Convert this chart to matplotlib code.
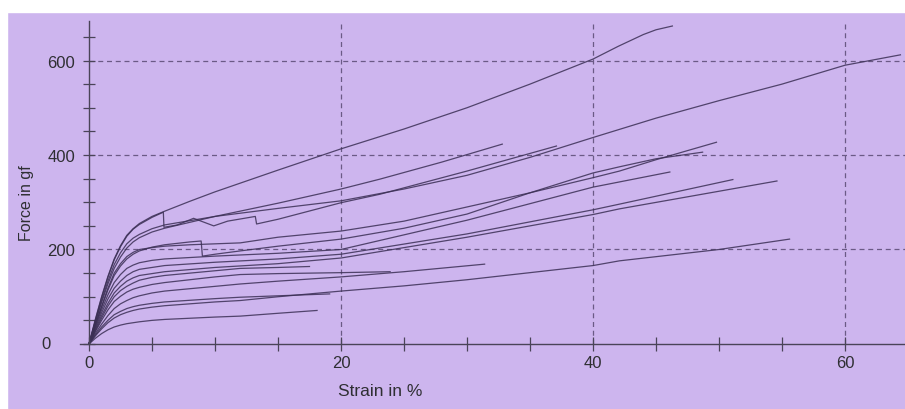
import matplotlib
matplotlib.use("Agg")
import matplotlib.pyplot as plt
import matplotlib.ticker as ticker
from matplotlib.patches import Rectangle

# strain (%) / force (gf) pairs
a_strain = [0, 0.5, 1, 1.5, 2, 2.5, 3, 3.5, 4, 5, 6, 8, 10, 15, 20, 25, 30, 35, 40, 42, 44, 45, 46.3]
a_force = [0, 52, 100, 143, 180, 208, 230, 244, 255, 270, 281, 302, 322, 368, 413, 455, 500, 550, 603, 630, 655, 665, 673]

kink1_strain = [0, 0.5, 1, 1.5, 2, 2.5, 3, 3.5, 4, 5, 5.9, 5.95, 7, 8.3, 9.9, 11, 13.2, 13.3, 15, 20, 23.1, 30, 37.1]
kink1_force = [0, 50, 98, 141, 178, 206, 228, 243, 253, 268, 279, 247, 252, 266, 250, 260, 270, 254, 264, 299, 317, 366, 419]

b_strain = [0, 0.5, 1, 1.5, 2, 2.5, 3, 3.5, 4, 5, 6, 10, 15, 20, 25, 30, 35, 40, 45, 50, 55, 60, 64.4]
b_force = [0, 47, 92, 133, 168, 193, 212, 224, 232, 244, 252, 270, 287, 303, 328, 357, 395, 437, 478, 515, 550, 590, 612]

i_strain = [0, 0.5, 1, 1.5, 2, 2.5, 3, 3.5, 4, 5, 6, 10, 15, 20, 23.1, 28, 32.8]
i_force = [0, 45, 88, 127, 160, 184, 203, 216, 225, 237, 245, 270, 298, 328, 349, 385, 423]

c_strain = [0, 0.5, 1, 1.5, 2, 2.5, 3, 3.5, 4, 5, 6, 8, 10, 12, 15, 20, 25, 30, 35, 40, 42.1, 45, 49.8]
c_force = [0, 41, 80, 118, 150, 170, 185, 194, 200, 204, 207, 210, 212, 214, 226, 239, 260, 290, 320, 352, 366, 390, 427]

kink2_strain = [0, 0.5, 1, 1.5, 2, 2.5, 3, 3.5, 4, 5, 6, 8, 8.9, 9.0, 10, 12, 15, 20, 25, 30, 35, 40, 42.1, 45, 48.7]
kink2_force = [0, 40, 78, 114, 145, 165, 180, 190, 197, 205, 210, 216, 218, 186, 190, 197, 207, 222, 245, 275, 320, 362, 375, 392, 406]

e_strain = [0, 0.5, 1, 1.5, 2, 2.5, 3, 3.5, 4, 5, 6, 10, 15, 20, 30, 40, 42.1, 46.1]
e_force = [0, 37, 72, 104, 130, 147, 160, 167, 172, 177, 180, 186, 192, 200, 262, 332, 343, 364]

f_strain = [0, 0.5, 1, 1.5, 2, 2.5, 3, 3.5, 4, 5, 6, 10, 15, 20, 30, 40, 42.1, 51.1]
f_force = [0, 34, 66, 95, 118, 133, 145, 153, 158, 162, 166, 173, 180, 190, 233, 284, 296, 348]

g_strain = [0, 0.5, 1, 1.5, 2, 2.5, 3, 3.5, 4, 5, 6, 10, 15, 20, 30, 40, 42.1, 54.6]
g_force = [0, 31, 60, 86, 108, 122, 133, 140, 145, 149, 153, 162, 170, 182, 226, 274, 286, 345]

m_strain = [0, 0.5, 1, 1.5, 2, 2.5, 3, 3.5, 4, 5, 6, 10, 12, 15, 17.5]
m_force = [0, 28, 55, 80, 100, 113, 122, 129, 135, 141, 145, 155, 160, 162, 164]

l_strain = [0, 0.5, 1, 1.5, 2, 2.5, 3, 3.5, 4, 5, 6, 10, 12, 15, 20, 23.9]
l_force = [0, 26, 50, 72, 90, 101, 110, 116, 120, 126, 130, 142, 147, 149, 151, 153]

k_strain = [0, 0.5, 1, 1.5, 2, 2.5, 3, 3.5, 4, 5, 6, 10, 12, 15, 20, 25, 31.4]
k_force = [0, 22, 42, 60, 75, 85, 92, 98, 102, 108, 112, 122, 127, 133, 142, 153, 169]

h_strain = [0, 0.5, 1, 1.5, 2, 2.5, 3, 3.5, 4, 5, 6, 10, 12, 15, 20, 25, 30, 40, 42.1, 50, 55.6]
h_force = [0, 17, 32, 45, 55, 62, 67, 71, 74, 78, 81, 89, 92, 100, 112, 123, 136, 166, 176, 200, 222]

o_strain = [0, 0.5, 1, 1.5, 2, 2.5, 3, 3.5, 4, 5, 6, 10, 12, 15, 19.1]
o_force = [0, 19, 36, 50, 62, 69, 75, 79, 82, 86, 89, 96, 99, 102, 106]

p_strain = [0, 0.5, 1, 1.5, 2, 2.5, 3, 3.5, 4, 5, 6, 10, 12, 15, 18.1]
p_force = [0, 12, 22, 30, 36, 40, 43, 45, 47, 50, 52, 57, 59, 65, 71]

curves = [
    (a_strain, a_force), (kink1_strain, kink1_force), (b_strain, b_force),
    (i_strain, i_force), (c_strain, c_force), (kink2_strain, kink2_force),
    (e_strain, e_force), (f_strain, f_force), (g_strain, g_force),
    (m_strain, m_force), (l_strain, l_force), (k_strain, k_force),
    (h_strain, h_force), (o_strain, o_force), (p_strain, p_force),
]

x_major = [0, 20, 40, 60]
y_major = [0, 200, 400, 600]
x_grid = [20, 40, 60]
y_grid = [200, 400, 600]

BG = "#cdb5ee"
INK = "#3b2f55"
TXT = "#2f2f33"

plt.rcParams['font.family'] = ['Liberation Sans', 'DejaVu Sans']

fig = plt.figure(figsize=(9.05, 4.10), dpi=100, facecolor=BG)
ax = fig.add_axes([0.08442, 0.1401, 0.9161, 0.8067])
ax.set_facecolor("none")
ax.set_xlim(-1, 64.8)
ax.set_ylim(-16, 684)

# scan borders
fig.add_artist(Rectangle((0, 397 / 410), 1, 13 / 410, transform=fig.transFigure,
                         color="white", zorder=0))
fig.add_artist(Rectangle((0, 0), 7 / 905, 1, transform=fig.transFigure,
                         color="white", zorder=0))

# dashed grid
ax.hlines(y_grid, 0, 64.8, colors="#6b5a86", linestyles=(0, (4, 3)), linewidth=0.9, zorder=1)
ax.vlines(x_grid, 0, 684, colors="#6b5a86", linestyles=(0, (4, 3)), linewidth=0.9, zorder=1)

for s, f in curves:
    ax.plot(s, f, color=INK, linewidth=0.9, alpha=0.85, zorder=2)

for side in ["top", "right"]:
    ax.spines[side].set_visible(False)
ax.spines["left"].set_position(("data", 0))
ax.spines["bottom"].set_position(("data", 0))
ax.spines["left"].set_bounds(0, 684)
ax.spines["bottom"].set_bounds(-0.7, 64.8)
for side in ["left", "bottom"]:
    ax.spines[side].set_color("#4a4458")
    ax.spines[side].set_linewidth(1.0)

ax.set_xticks(x_major)
ax.xaxis.set_minor_locator(ticker.MultipleLocator(5))
ax.set_yticks(y_major, ["", "200", "400", "600"])
ax.yaxis.set_minor_locator(ticker.MultipleLocator(50))
ax.tick_params(axis="x", which="both", direction="inout", length=9.5, width=0.9,
               color="#4a4458", labelsize=12, labelcolor=TXT, pad=3)
ax.tick_params(axis="y", which="both", direction="inout", length=8, width=0.9,
               color="#4a4458", labelsize=12, labelcolor=TXT, pad=6)
ax.text(-3.4, 0, "0", ha="center", va="center", fontsize=12, color=TXT)

fig.text(27 / 905, 1 - 203 / 410, "Force in gf", rotation=90, ha="center", va="center",
         fontsize=11.5, color=TXT)
fig.text(380 / 905, 1 - 392 / 410, "Strain in %", ha="center", va="center",
         fontsize=12.5, color=TXT)

fig.savefig("out.png", dpi=100, facecolor=BG)
